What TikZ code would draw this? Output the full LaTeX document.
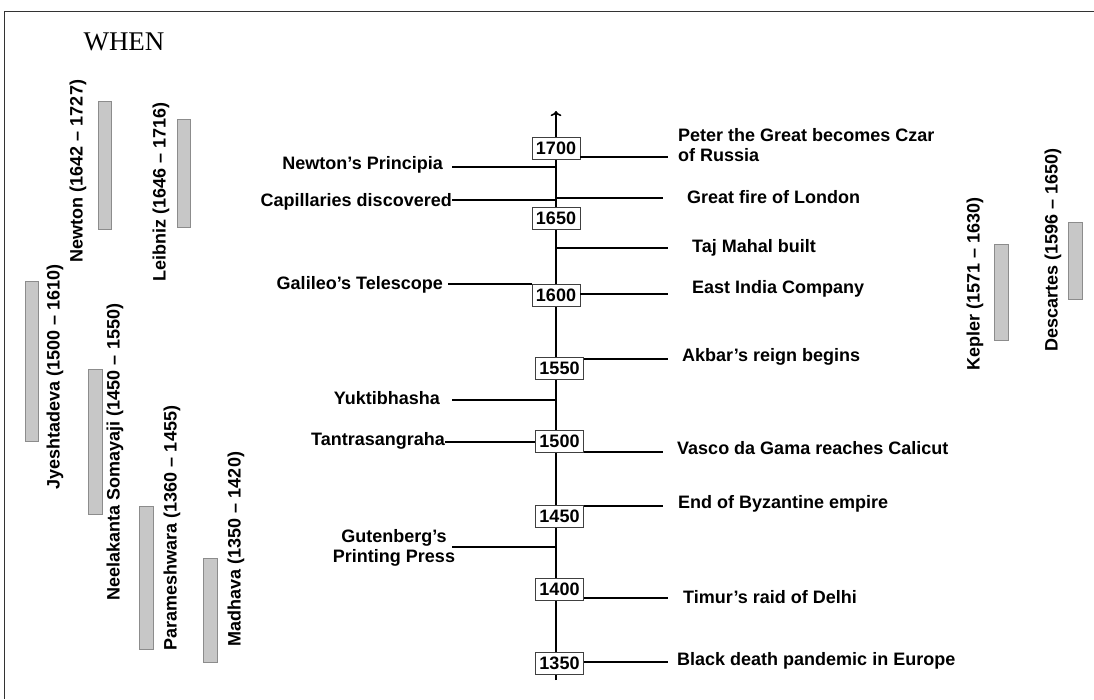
\documentclass[tikz,border=0pt]{standalone}
\usepackage{fontspec}
\setmainfont{Liberation Serif}
\setsansfont{Liberation Sans}
\usetikzlibrary{arrows.meta,positioning}

\begin{document}
\begin{tikzpicture}[
    x=1pt, y=-1pt,
    event/.style={font=\sffamily\bfseries\fontsize{18}{20}\selectfont, inner sep=0pt},
    year/.style={draw=black!75, line width=0.7pt, fill=white, minimum width=48pt,
        minimum height=22pt, inner sep=0pt, font=\sffamily\bfseries\fontsize{18}{20}\selectfont},
    tick/.style={line width=1.2pt},
    axis/.style={->,line width=1.6pt},
    life/.style={fill=black!22, draw=black!45, line width=0.6pt},
    person/.style={rotate=90, font=\sffamily\bfseries\fontsize{18}{20}\selectfont, inner sep=0pt},
]

\useasboundingbox (0,0) rectangle (1094,699);

%----------------------------------
% Frame and title
%----------------------------------

\draw[line width=1pt, black!80] (1094,11) -- (4,11) -- (4,699);

\node[font=\fontsize{27}{30}\selectfont] (title) at (124,42) {WHEN};

%----------------------------------
% Time axis
%----------------------------------

\coordinate (axisTop) at (556,111);
\coordinate (axisBot) at (556,680);

\draw[axis] (axisBot) -- (axisTop);

\node[year] (y1700) at (556,148) {1700};
\node[year] (y1650) at (556,218) {1650};
\node[year] (y1600) at (556,295.5) {1600};
\node[year] (y1550) at (559.5,368) {1550};
\node[year] (y1500) at (559.5,441.5) {1500};
\node[year] (y1450) at (559.5,516) {1450};
\node[year] (y1400) at (559.5,589) {1400};
\node[year] (y1350) at (559.5,663.5) {1350};

%----------------------------------
% Events, right side
%----------------------------------

\coordinate (peterEnd) at (668,157);
\node[event, align=left, anchor=west] (peter) at (678,145) {Peter the Great becomes Czar\\of Russia};
\draw[tick] (peterEnd -| y1700.east) -- (peterEnd);

\coordinate (fireEnd) at (663,198);
\node[event, anchor=west] (fire) at (687,197) {Great fire of London};
\draw[tick] (fireEnd -| axisTop) -- (fireEnd);

\coordinate (tajEnd) at (668,248);
\node[event, anchor=west] (taj) at (692,248) {Taj Mahal built};
\draw[tick] (tajEnd -| axisTop) -- (tajEnd);

\coordinate (eicEnd) at (668,294);
\node[event, anchor=west] (eic) at (692,289) {East India Company};
\draw[tick] (eicEnd -| y1600.east) -- (eicEnd);

\coordinate (akbarEnd) at (668,359);
\node[event, anchor=west] (akbar) at (682,357) {Akbar's reign begins};
\draw[tick] (akbarEnd -| y1550.east) -- (akbarEnd);

\coordinate (vascoEnd) at (663,452);
\node[event, anchor=west] (vasco) at (677,448) {Vasco da Gama reaches Calicut};
\draw[tick] (vascoEnd -| y1500.east) -- (vascoEnd);

\coordinate (byzEnd) at (663,506);
\node[event, anchor=west] (byz) at (678,504) {End of Byzantine empire};
\draw[tick] (byzEnd -| y1450.east) -- (byzEnd);

\coordinate (timurEnd) at (668,598);
\node[event, anchor=west] (timur) at (683,597) {Timur's raid of Delhi};
\draw[tick] (timurEnd -| y1400.east) -- (timurEnd);

\coordinate (deathEnd) at (668,662);
\node[event, anchor=west] (death) at (677,661) {Black death pandemic in Europe};
\draw[tick] (deathEnd -| y1350.east) -- (deathEnd);

%----------------------------------
% Events, left side
%----------------------------------

\coordinate (prinEnd) at (452,167);
\node[event, anchor=east] (prin) at (443,165) {Newton's Principia};
\draw[tick] (prinEnd) -- (prinEnd -| axisTop);

\coordinate (capEnd) at (452,200);
\node[event, anchor=east] (cap) at (452,202) {Capillaries discovered};
\draw[tick] (capEnd) -- (capEnd -| axisTop);

\coordinate (galEnd) at (448,284);
\node[event, anchor=east] (gal) at (443,285) {Galileo's Telescope};
\draw[tick] (galEnd) -- (galEnd -| y1600.west);

\coordinate (yukEnd) at (452,400);
\node[event, anchor=east] (yuk) at (440,398) {Yuktibhasha};
\draw[tick] (yukEnd) -- (yukEnd -| axisTop);

\coordinate (tanEnd) at (445,442);
\node[event, anchor=east] (tan) at (445,441) {Tantrasangraha};
\draw[tick] (tanEnd) -- (tanEnd -| y1500.west);

\coordinate (gutEnd) at (452,547);
\node[event, align=center] (gut) at (394,548) {Gutenberg's\\Printing Press};
\draw[tick] (gutEnd) -- (gutEnd -| axisTop);

%----------------------------------
% Mathematicians, life spans
%----------------------------------

\draw[life] (98,101) rectangle (111,229);
\node[person] (newton) at (78,171) {Newton (1642 -- 1727)};

\draw[life] (177,119) rectangle (190,227);
\node[person] (leibniz) at (161,192) {Leibniz (1646 -- 1716)};

\draw[life] (25,281) rectangle (38,441);
\node[person] (jyesh) at (55,377) {Jyeshtadeva (1500 -- 1610)};

\draw[life] (88,369) rectangle (102,514);
\node[person] (neela) at (115,452) {Neelakanta Somayaji (1450 -- 1550)};

\draw[life] (139,506) rectangle (153,649);
\node[person] (param) at (172,528) {Parameshwara (1360 -- 1455)};

\draw[life] (203,558) rectangle (217,662);
\node[person] (madhava) at (236,549) {Madhava (1350 -- 1420)};

\draw[life] (994,244) rectangle (1008,340);
\node[person] (kepler) at (975,284) {Kepler (1571 -- 1630)};

\draw[life] (1068,222) rectangle (1082,299);
\node[person] (desc) at (1053,250) {Descartes (1596 -- 1650)};

\end{tikzpicture}
\end{document}
